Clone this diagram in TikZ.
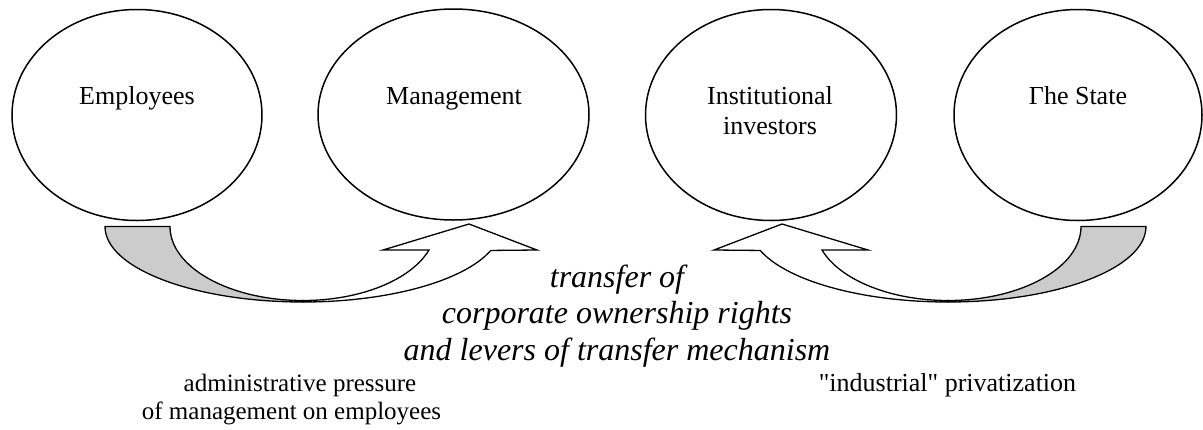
\documentclass[tikz,border=0pt]{standalone}
\usepackage{fontspec}
\setmainfont{Liberation Serif}
\newfontfamily\plainrm{Liberation Serif}
\usetikzlibrary{shapes.geometric}
\definecolor{shade}{RGB}{204,204,204}
\begin{document}
\begin{tikzpicture}[x=1pt,y=-1pt,
  bubble/.style={draw, ellipse, line width=1.5pt, inner sep=0pt, minimum height=211pt},
  lbl/.style={anchor=base, inner sep=0pt, font=\plainrm\fontsize{26}{30}\selectfont},
  slbl/.style={anchor=base, inner sep=0pt, font=\plainrm\fontsize{25}{30}\selectfont},
  tlbl/.style={anchor=base, inner sep=0pt, font=\plainrm\fontsize{32}{36}\selectfont\itshape},
  band/.style={draw, line width=1.3pt, line join=miter}]
\useasboundingbox (0,0) rectangle (1203,429);

% ellipses
\node[bubble, minimum width=250pt] (emp) at (137,115) {};
\node[bubble, minimum width=271pt] (mgmt) at (453.5,114.5) {};
\node[bubble, minimum width=251pt] (inst) at (771,115) {};
\node[bubble, minimum width=248pt] (state) at (1078,115) {};

\node[lbl] (empT) at (137,104) {Employees};
\node[lbl] (mgmtT) at (454,104) {Management};
\node[lbl] (instT1) at (770,104) {Institutional};
\node[lbl] (instT2) at (770,134) {investors};
\node[lbl] (stateT) at (1078,104) {Γhe State};

% left curved arrow
\path[band, fill=shade] (105,226.5) -- (170,226.5)
  arc[start angle=180, end angle=270, x radius=133pt, y radius=74pt]
  -- (303,302)
  arc[start angle=270, end angle=180, x radius=198pt, y radius=75.5pt] -- cycle;
\path[band, fill=white] (303,302)
  arc[start angle=270, end angle=341.5, x radius=198pt, y radius=75.5pt]
  -- (537,250) -- (469,224) -- (383,250) -- (429,250)
  arc[start angle=341.5, end angle=270, x radius=133pt, y radius=74pt] -- cycle;

% right curved arrow
\path[band, fill=shade] (1146,226.5) -- (1081,226.5)
  arc[start angle=0, end angle=-90, x radius=133pt, y radius=74pt]
  -- (948,302)
  arc[start angle=270, end angle=360, x radius=198pt, y radius=75.5pt] -- cycle;
\path[band, fill=white] (948,302)
  arc[start angle=270, end angle=198.5, x radius=198pt, y radius=75.5pt]
  -- (714,250) -- (782,224) -- (868,250) -- (822,250)
  arc[start angle=198.5, end angle=270, x radius=133pt, y radius=74pt] -- cycle;

% central italic text
\node[tlbl] (tr1) at (617,287) {transfer of};
\node[tlbl] (tr2) at (617,323) {corporate ownership rights};
\node[tlbl] (tr3) at (617,360) {and levers of transfer mechanism};

% bottom labels
\node[slbl] (adm1) at (300,391) {administrative pressure};
\node[slbl] (adm2) at (291.5,419) {of management on employees};
\node[lbl] (ind) at (947.5,391) {"industrial" privatization};
\end{tikzpicture}
\end{document}
